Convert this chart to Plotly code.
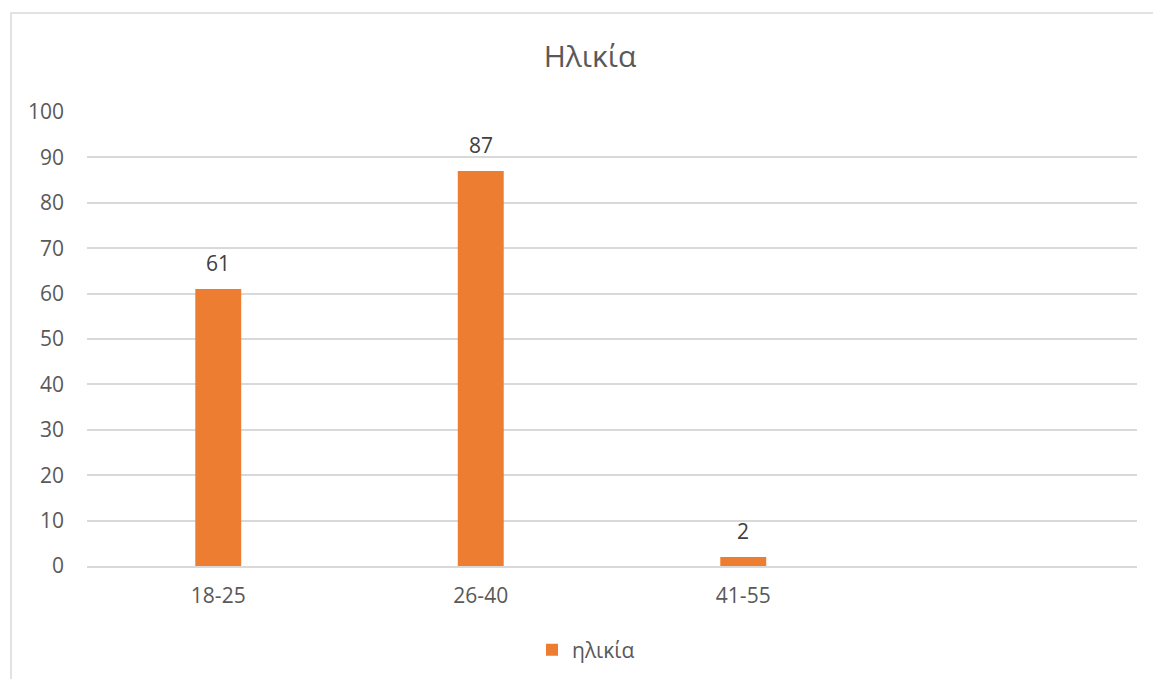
import plotly.graph_objects as go

# Age-group counts
categories = ["18-25", "26-40", "41-55"]
counts = [61, 87, 2]
series_name = "ηλικία"
chart_title = "Ηλικία"
y_ticks = [0, 10, 20, 30, 40, 50, 60, 70, 80, 90, 100]

W, H = 1153, 679
FONT = "Open Sans, Noto Sans, sans-serif"
ORANGE = "#ED7D31"
GRID = "#D9D9D9"
TEXT = "#595959"

x_pos = list(range(len(categories)))

fig = go.Figure(
    go.Bar(
        x=x_pos,
        y=counts,
        name=series_name,
        width=0.175,
        marker=dict(color=ORANGE, line=dict(width=0)),
        showlegend=True,
    )
)

# Value labels above each bar
for xv, v in zip(x_pos, counts):
    fig.add_annotation(
        x=xv,
        y=v,
        text=str(v),
        showarrow=False,
        xanchor="center",
        yanchor="middle",
        yshift=26,
        font=dict(family=FONT, size=21, color="#404040"),
    )

fig.update_layout(
    width=W,
    height=H,
    margin=dict(l=87, r=16, t=112, b=113),
    paper_bgcolor="white",
    plot_bgcolor="white",
    font=dict(family=FONT, color=TEXT),
    title=dict(
        text=chart_title,
        font=dict(family=FONT, size=30, color=TEXT),
        xref="container",
        yref="container",
        x=590 / W,
        y=1 - 56 / H,
        xanchor="center",
        yanchor="middle",
    ),
    showlegend=True,
    legend=dict(
        orientation="h",
        xref="container",
        yref="container",
        x=586 / W,
        y=1 - 650 / H,
        xanchor="center",
        yanchor="middle",
        font=dict(family=FONT, size=21, color=TEXT),
        itemwidth=30,
    ),
    bargap=0.825,
)

fig.update_xaxes(
    range=[-0.5, 3.5],
    tickmode="array",
    tickvals=x_pos,
    ticktext=categories,
    showgrid=False,
    zeroline=False,
    showline=True,
    linecolor=GRID,
    linewidth=1.5,
    ticks="",
    ticklabelstandoff=10,
    tickfont=dict(family=FONT, size=21, color=TEXT),
    fixedrange=True,
)

fig.update_yaxes(
    range=[0, 100],
    tickmode="array",
    tickvals=y_ticks,
    showgrid=True,
    gridcolor=GRID,
    gridwidth=1.5,
    zeroline=False,
    showline=False,
    ticks="",
    ticklabelstandoff=22,
    tickfont=dict(family=FONT, size=21, color=TEXT),
    fixedrange=True,
)

# Chart-area border (extends past the right and bottom edges of the page)
fig.add_shape(
    type="rect",
    xref="paper",
    yref="paper",
    x0=(11 - 87) / 1050,
    x1=(1175 - 87) / 1050,
    y0=(566 - 700) / 454,
    y1=(566 - 13) / 454,
    line=dict(color=GRID, width=1.5),
    fillcolor="rgba(0,0,0,0)",
    layer="below",
)

fig.write_html("out.html", config={"displayModeBar": False})
